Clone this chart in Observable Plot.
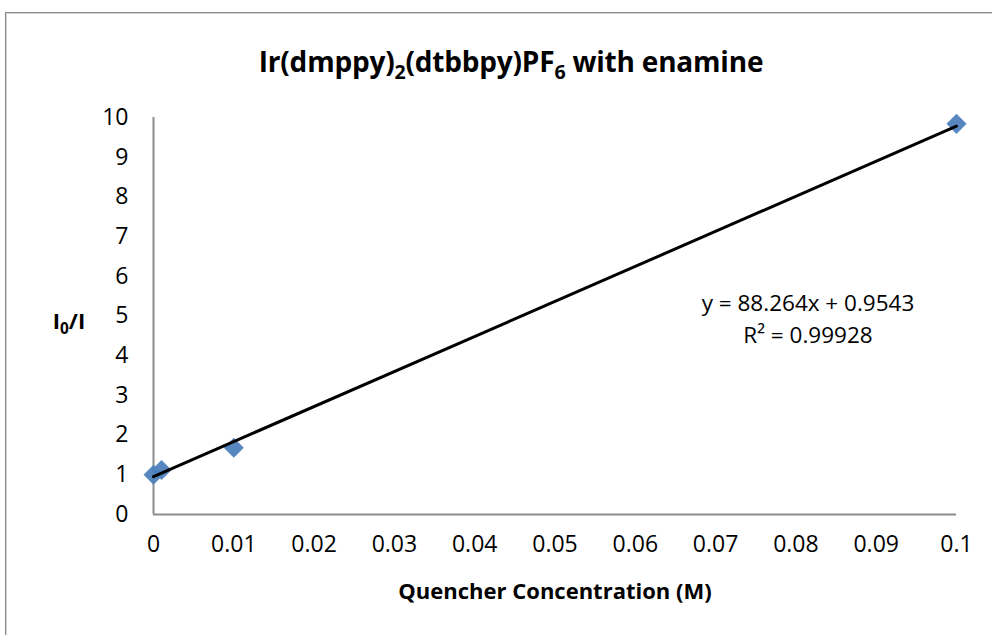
<!DOCTYPE html>
<html>
<head>
<meta charset="utf-8">
<script src="https://cdn.jsdelivr.net/npm/d3@7"></script>
<script src="https://cdn.jsdelivr.net/npm/@observablehq/plot@0.6"></script>
<style>
  html, body { margin: 0; padding: 0; background: #fff; overflow: hidden; }
  #wrap { position: relative; width: 992px; height: 635px; font-family: "Open Sans", sans-serif; color: #000; }
  #frame { position: absolute; left: 5px; top: 12px; width: 1100px; height: 800px;
           border-top: 1px solid #8a8a8a; border-left: 1px solid #8a8a8a;
           box-shadow: inset 1px 1px 0 #d4d4d4; }
  #chart { position: absolute; left: 0; top: 0; }
  #chart svg text { font-size: 23px !important; font-family: "Open Sans", sans-serif; fill: #000; }
  .lbl { position: absolute; white-space: nowrap; transform: translate(-50%, -50%); }
  #title { left: 511px; top: 61px; font-weight: bold; font-size: 28px; letter-spacing: -0.2px; }
  #xlabel { left: 555px; top: 590px; font-weight: bold; font-size: 22px; }
  #ylabel { left: 69px; top: 320px; font-weight: bold; font-size: 22px; }
  #eq { left: 808px; top: 319px; font-size: 22.5px; text-align: center; line-height: 32px; }
  sub { font-size: 0.7em; vertical-align: -0.35em; line-height: 0; }
</style>
</head>
<body>
<div id="wrap">
  <div id="frame"></div>
  <div id="chart"></div>
  <div class="lbl" id="title">Ir(dmppy)<sub>2</sub>(dtbbpy)PF<sub>6</sub> with enamine</div>
  <div class="lbl" id="xlabel">Quencher Concentration (M)</div>
  <div class="lbl" id="ylabel">I<sub>0</sub>/I</div>
  <div class="lbl" id="eq">y = 88.264x + 0.9543<br>R² = 0.99928</div>
</div>
<script>
const concentration = [0, 0.001, 0.01, 0.1];
const ratio = [1.0, 1.12, 1.68, 9.84];
const xTicks = [0, 0.01, 0.02, 0.03, 0.04, 0.05, 0.06, 0.07, 0.08, 0.09, 0.1];
const yTicks = [0, 1, 2, 3, 4, 5, 6, 7, 8, 9, 10];
const slope = 88.264;
const intercept = 0.9543;
const fitRange = [0, 0.1];

const points = concentration.map((c, i) => ({x: c, y: ratio[i]}));
const fit = fitRange.map(x => ({x, y: slope * x + intercept}));

const chart = Plot.plot({
  width: 992,
  height: 635,
  marginLeft: 153,
  marginRight: 36,
  marginTop: 117,
  marginBottom: 121,
  style: {fontFamily: "Open Sans, sans-serif", fontSize: "23px", color: "#000", background: "transparent", overflow: "visible"},
  x: {domain: [0, 0.1], label: null},
  y: {domain: [0, 10], label: null},
  marks: [
    Plot.axisX({ticks: xTicks, tickSize: 0, tickPadding: 21, tickFormat: d => String(+d.toFixed(2)), label: null}),
    Plot.axisY({ticks: yTicks, tickSize: 0, tickPadding: 25, tickFormat: d => String(d), label: null}),
    Plot.ruleX([0], {stroke: "#8c8c8c", strokeWidth: 2}),
    Plot.ruleY([0], {stroke: "#8c8c8c", strokeWidth: 2}),
    Plot.dot(points, {x: "x", y: "y", symbol: "square", r: 8, rotate: 45, fill: "#4F81BD", fillOpacity: 0.95, stroke: "none"}),
    Plot.line(fit, {x: "x", y: "y", stroke: "#000", strokeWidth: 3})
  ]
});
document.getElementById("chart").appendChild(chart);
</script>
</body>
</html>
